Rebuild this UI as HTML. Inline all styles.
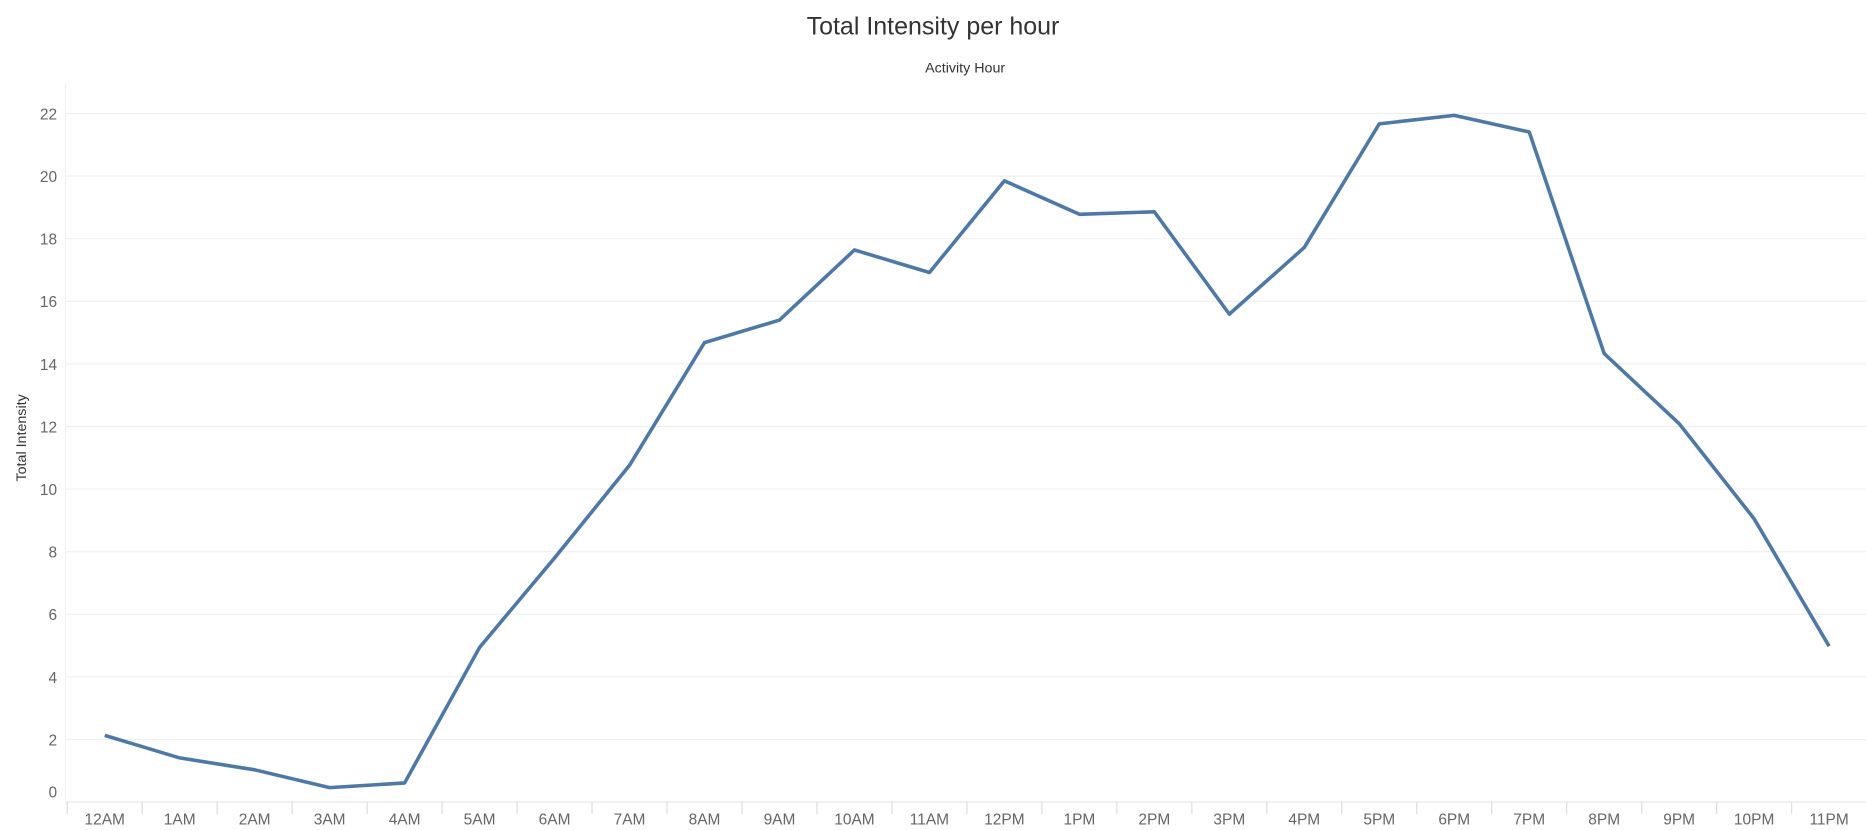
<!DOCTYPE html>
<html><head><meta charset="utf-8"><style>
html,body{margin:0;padding:0;background:#fff;}
svg{display:block;font-family:"Liberation Sans","DejaVu Sans",sans-serif;}
</style></head><body>
<svg id="chart" width="1866" height="830" viewBox="0 0 1568 697.5" preserveAspectRatio="none">
<text x="784" y="29" text-anchor="middle" font-size="21" fill="#333">Total Intensity per hour</text>
<text x="811" y="61" text-anchor="middle" font-size="12" fill="#333">Activity Hour</text>
<text transform="translate(22,368) rotate(-90)" text-anchor="middle" font-size="12" fill="#333">Total Intensity</text>
<g id="grid"></g><g id="yticks"></g><g id="xticks"></g><g id="series"></g>
</svg>
<script>
const categories=["12AM","1AM","2AM","3AM","4AM","5AM","6AM","7AM","8AM","9AM","10AM","11AM","12PM","1PM","2PM","3PM","4PM","5PM","6PM","7PM","8PM","9PM","10PM","11PM"];
const intensity=[2.13,1.41,1.03,0.46,0.61,4.94,7.8,10.76,14.68,15.4,17.64,16.92,19.85,18.78,18.86,15.59,17.72,21.67,21.94,21.41,14.33,12.09,9.05,4.98];
const yTicks=[0,2,4,6,8,10,12,14,16,18,20,22];
const NS="http://www.w3.org/2000/svg";
const x0=88,xStep=63,yBase=674,yUnit=26.3,left=55,right=1568;
function xs(i){return x0+i*xStep;}
function ys(v){return yBase-v*yUnit;}
function mk(tag,attrs,parent){const e=document.createElementNS(NS,tag);for(const k in attrs)e.setAttribute(k,attrs[k]);document.getElementById(parent).appendChild(e);return e;}
yTicks.forEach(t=>{
  const y=ys(t);
  const g=mk('line',{x1:left,x2:right,y1:y,y2:y,stroke:t===0?'#e6e6e6':'#f0f0f0','stroke-width':1},'grid');
  
  
  const l=mk('text',{x:48,y:(t===0?665:y)+5,'text-anchor':'end','font-size':13,fill:'#666'},'yticks');
  l.textContent=t;
  
  
});
mk('line',{x1:left,x2:left,y1:70,y2:674,stroke:'#f0f0f0'},'grid');
categories.forEach((c,i)=>{
  const tk=mk('line',{x1:xs(i)-31.5,x2:xs(i)-31.5,y1:674,y2:684,stroke:'#ddd'},'xticks');
  
  
  const l=mk('text',{x:xs(i),y:693,'text-anchor':'middle','font-size':13,fill:'#666'},'xticks');
  l.textContent=c;
  
  
});
const p=mk('polyline',{points:intensity.map((v,i)=>xs(i)+','+ys(v)).join(' '),fill:'none',stroke:'#4e79a7','stroke-width':3,'stroke-linejoin':'round'},'series');


</script>
</body></html>
